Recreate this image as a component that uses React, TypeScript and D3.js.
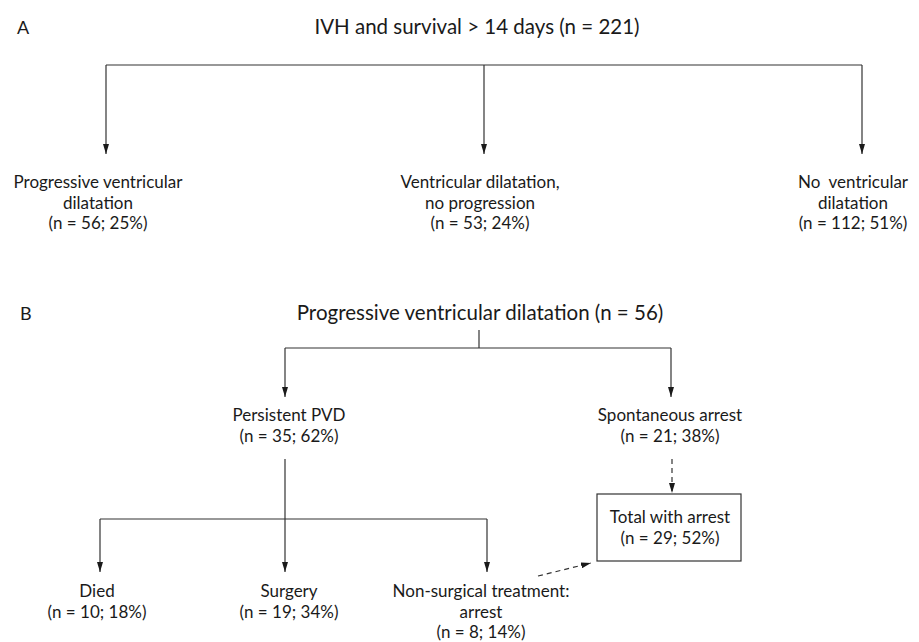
import React from "react";
import * as d3 from "d3";

// panel A
const aTitle = "IVH and survival > 14 days";
const aTotal = 221;
const aLabels = [
  ["Progressive ventricular", "dilatation"],
  ["Ventricular dilatation,", "no progression"],
  ["No  ventricular", "dilatation"]
];
const aCounts = [56, 53, 112];
const aPercents = [25, 24, 51];

// panel B
const bTitle = "Progressive ventricular dilatation";
const bTotal = 56;
const bLabels = [["Persistent PVD"], ["Spontaneous arrest"]];
const bCounts = [35, 21];
const bPercents = [62, 38];

const pvdLabels = [["Died"], ["Surgery"], ["Non-surgical treatment:", "arrest"]];
const pvdCounts = [10, 19, 8];
const pvdPercents = [18, 34, 14];

const arrestLabel = "Total with arrest";
const arrestCount = 29;
const arrestPercent = 52;

const width = 919,
  height = 642;
const font = "Lato, 'Noto Sans', sans-serif";
const ink = "#1a1a1a";
const lineColor = "#333";
const labelSize = 17;
const titleSize = 20.5;

const line = d3.line<[number, number]>();

function Label({ x, y, lines }: { x: number; y: number; lines: string[] }) {
  return (
    <text x={x} y={y} textAnchor="middle" fontSize={labelSize} fill={ink} fontFamily={font}>
      {lines.map((l, i) => (
        <tspan key={i} x={x} y={y + i * 20.5} style={{ whiteSpace: "pre" }}>
          {l}
        </tspan>
      ))}
    </text>
  );
}

function Arrow({ pts, dashed = false }: { pts: [number, number][]; dashed?: boolean }) {
  return (
    <path
      d={line(pts) || ""}
      fill="none"
      stroke={lineColor}
      strokeWidth={1.2}
      strokeDasharray={dashed ? "5,4" : undefined}
      markerEnd="url(#head)"
    />
  );
}

export default function App() {
  const nText = (n: number, p: number) => `(n = ${n}; ${p}%)`;

  // column positions
  const xA = d3.scalePoint<number>().domain([0, 1, 2]).range([106, 862]);
  const aTextX = [98, 480, 853];
  const aHY = 65,
    aTip = 154,
    aTextY = 188;

  const xB = d3.scalePoint<number>().domain([0, 1]).range([285, 671]);
  const bTextX = [289, 670];
  const bHY = 348,
    bTip = 397,
    bTextY = 421;

  const xC = d3.scaleOrdinal<number, number>().domain([0, 1, 2]).range([100, 285, 487]);
  const cTextX = [97, 289, 481];
  const cHY = 519,
    cTip = 572,
    cTextY = 597;

  const box = { x0: 597, x1: 741, y0: 494, y1: 561 };

  return (
    <svg width={width} height={height} style={{ position: "absolute", left: 0, top: 0, background: "#fff" }}>
      <defs>
        <marker id="head" viewBox="0 0 10 6" refX={10} refY={3} markerWidth={10} markerHeight={6} markerUnits="userSpaceOnUse" orient="auto">
          <path d="M0,0L10,3L0,6Z" fill={ink} />
        </marker>
      </defs>

      {/* Panel A */}
      <text x={17} y={34} fontSize={18} fill={ink} fontFamily={font}>A</text>
      <text x={477} y={34} textAnchor="middle" fontSize={titleSize} fill={ink} fontFamily={font}>
        {`${aTitle} (n = ${aTotal})`}
      </text>
      <path d={line([[xA(0)!, aHY], [xA(2)!, aHY]]) || ""} stroke={lineColor} strokeWidth={1.2} fill="none" />
      {aLabels.map((lab, i) => (
        <g key={i}>
          <Arrow pts={[[xA(i)!, aHY], [xA(i)!, aTip]]} />
          <Label x={aTextX[i]} y={aTextY} lines={[...lab, nText(aCounts[i], aPercents[i])]} />
        </g>
      ))}

      {/* Panel B */}
      <text x={20} y={320} fontSize={18} fill={ink} fontFamily={font}>B</text>
      <text x={480} y={320} textAnchor="middle" fontSize={titleSize} fill={ink} fontFamily={font}>
        {`${bTitle} (n = ${bTotal})`}
      </text>
      <path d={line([[479, 330], [479, bHY]]) || ""} stroke={lineColor} strokeWidth={1.2} fill="none" />
      <path d={line([[xB(0)!, bHY], [xB(1)!, bHY]]) || ""} stroke={lineColor} strokeWidth={1.2} fill="none" />
      {bLabels.map((lab, i) => (
        <g key={i}>
          <Arrow pts={[[xB(i)!, bHY], [xB(i)!, bTip]]} />
          <Label x={bTextX[i]} y={bTextY} lines={[...lab, nText(bCounts[i], bPercents[i])]} />
        </g>
      ))}

      {/* Persistent PVD branches */}
      <path d={line([[xC(0), cHY], [xC(2), cHY]]) || ""} stroke={lineColor} strokeWidth={1.2} fill="none" />
      {pvdLabels.map((lab, i) => (
        <g key={i}>
          <Arrow pts={[[xC(i), i === 1 ? 459 : cHY], [xC(i), cTip]]} />
          <Label x={cTextX[i]} y={cTextY} lines={[...lab, nText(pvdCounts[i], pvdPercents[i])]} />
        </g>
      ))}

      {/* Spontaneous arrest -> total */}
      <Arrow pts={[[672, 459], [672, box.y0 - 1]]} dashed />
      <rect x={box.x0} y={box.y0} width={box.x1 - box.x0} height={box.y1 - box.y0} fill="none" stroke={lineColor} strokeWidth={1.2} />
      <Label x={670} y={523} lines={[arrestLabel, nText(arrestCount, arrestPercent)]} />
      <Arrow pts={[[538, 576], [591, 563]]} dashed />
    </svg>
  );
}
